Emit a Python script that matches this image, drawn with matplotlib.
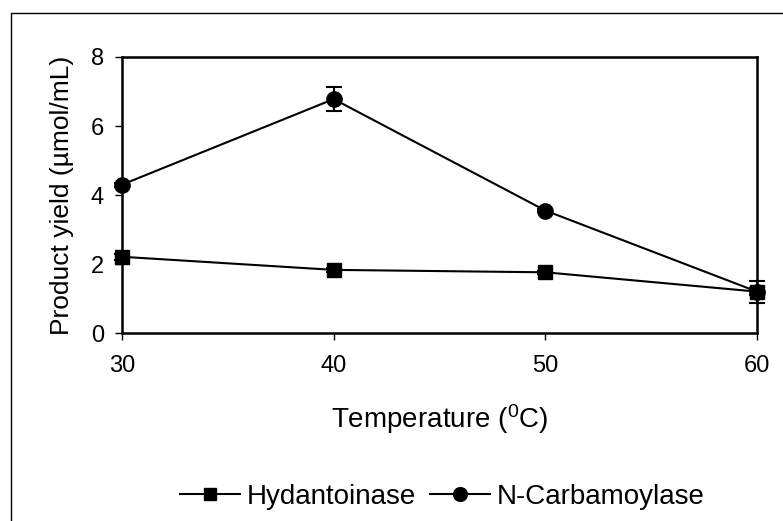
import matplotlib
matplotlib.use("Agg")
import matplotlib.pyplot as plt
from matplotlib.patches import Rectangle

plt.rcParams['font.family'] = ['Liberation Sans', 'DejaVu Sans']
plt.rcParams['mathtext.fontset'] = 'custom'
plt.rcParams['mathtext.rm'] = 'Liberation Sans'

temps = [30, 40, 50, 60]
hydantoinase = [2.21, 1.83, 1.76, 1.20]
hydantoinase_err = [0.08, 0.06, 0.05, 0.10]
carbamoylase = [4.30, 6.78, 3.55, 1.20]
carbamoylase_err = [0.06, 0.35, 0.05, 0.32]

fig = plt.figure(figsize=(7.83, 5.21), dpi=100)
ax = fig.add_axes([0.1558, 0.3608, 0.811, 0.5298])

# outer frame, clipped at the right and bottom edges
fig.patches.append(Rectangle((11 / 783, -0.1), 1.2, 1.1 - 13 / 521,
                             transform=fig.transFigure, fill=False,
                             edgecolor='black', linewidth=1.0))

ax.errorbar(temps, hydantoinase, yerr=hydantoinase_err, color='black',
            marker='s', markersize=10, linewidth=1.5, capsize=5.8,
            elinewidth=1.5, capthick=1.5, clip_on=False, label='Hydantoinase')
ax.errorbar(temps, carbamoylase, yerr=carbamoylase_err, color='black',
            marker='o', markersize=11, linewidth=1.5, capsize=5.8,
            elinewidth=1.5, capthick=1.5, clip_on=False, label='N-Carbamoylase')

ax.set_xlim(30, 60)
ax.set_ylim(0, 8)
ax.set_xticks([30, 40, 50, 60])
ax.set_yticks([0, 2, 4, 6, 8])
ax.tick_params(axis='both', direction='out', length=5, width=1.0, labelsize=17)
ax.tick_params(axis='x', pad=11)
ax.tick_params(axis='y', pad=8)
for s in ax.spines.values():
    s.set_linewidth(1.8)

ax.set_xlabel(r'Temperature ($\mathregular{^0}$C)', fontsize=20, labelpad=18)
ax.set_ylabel('Product yield (µmol/mL)', fontsize=19, labelpad=12)

handles, labels = ax.get_legend_handles_labels()
handles = [h[0] for h in handles]
leg = fig.legend(handles, labels, loc='center', bbox_to_anchor=(0.565, 0.046),
                 ncol=2, frameon=False, fontsize=20, handlelength=2.15,
                 handletextpad=0.25, columnspacing=0.5, markerscale=0.9)

fig.savefig('out.png', dpi=100)
